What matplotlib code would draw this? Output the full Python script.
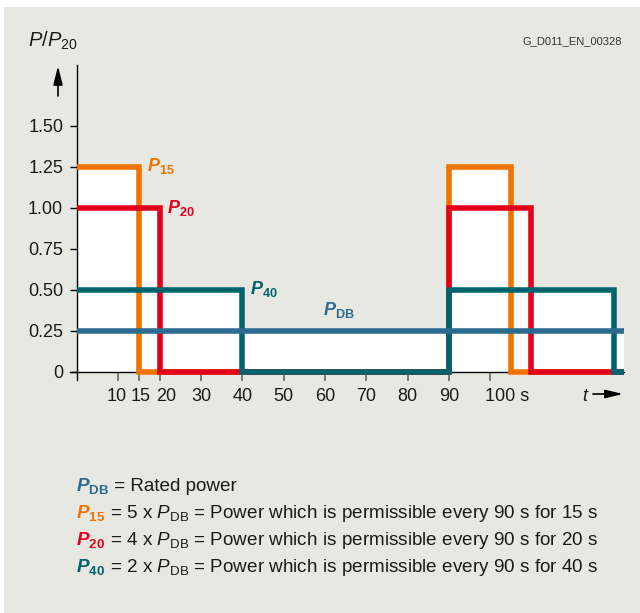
import numpy as np
import matplotlib
matplotlib.use('Agg')
import matplotlib.pyplot as plt
from matplotlib.patches import Rectangle
from matplotlib.transforms import ScaledTranslation

plt.rcParams['font.family'] = ['Liberation Sans', 'DejaVu Sans']
plt.rcParams['mathtext.fontset'] = 'custom'
plt.rcParams['mathtext.rm'] = 'Liberation Sans'
plt.rcParams['mathtext.it'] = 'Liberation Sans:italic'
plt.rcParams['mathtext.bf'] = 'Liberation Sans:bold'
plt.rcParams['mathtext.bfit'] = 'Liberation Sans:italic:bold'
plt.rcParams['mathtext.sf'] = 'Liberation Sans'

# ---------------- data ----------------
t = [0, 15, 20, 40, 90, 105, 110, 130, 132.4]
p15 = [1.25, 0, 0, 0, 1.25, 0, 0, 0, 0]
p20 = [1.00, 1.00, 0, 0, 1.00, 1.00, 0, 0, 0]
p40 = [0.50, 0.50, 0.50, 0, 0.50, 0.50, 0.50, 0, 0]
pdb = [0.25, 0.25, 0.25, 0.25, 0.25, 0.25, 0.25, 0.25, 0.25]

yticks = [0, 0.25, 0.50, 0.75, 1.00, 1.25, 1.50]
ytick_labels = ['0', '0.25', '0.50', '0.75', '1.00', '1.25', '1.50']
xticks = [10, 15, 20, 30, 40, 50, 60, 70, 80, 90, 100]
xtick_labels = ['10', '15', '20', '30', '40', '50', '60', '70', '80', '90', '100 s']

legend_subs = ['DB', '15', '20', '40']
legend_rest = [
    ' = Rated power',
    r' = 5 x $\mathit{P}_{\mathrm{DB}}$ = Power which is permissible every 90 s for 15 s',
    r' = 4 x $\mathit{P}_{\mathrm{DB}}$ = Power which is permissible every 90 s for 20 s',
    r' = 2 x $\mathit{P}_{\mathrm{DB}}$ = Power which is permissible every 90 s for 40 s',
]

# ---------------- style ----------------
BG = '#E8E8E3'
ORANGE = '#F07300'
RED = '#E2001A'
TEAL = '#00646E'
BLUE = '#2B6B8F'
TXT = '#1A1A1A'
legend_colors = [BLUE, ORANGE, RED, TEAL]

W, H = 640, 613
fig = plt.figure(figsize=(W / 100, H / 100), dpi=100)
fig.patch.set_facecolor('white')
fig.add_artist(Rectangle((4 / W, 0), 1 - 4 / W, 1 - 7 / H, transform=fig.transFigure,
                         facecolor=BG, edgecolor='none', zorder=-10))

def fx(px):
    return px / W

def fy(py):
    return 1 - py / H

ax = fig.add_axes([fx(70), fy(380), (624 - 70) / W, (380 - 65) / H])
ax.set_facecolor('none')
ax.set_xlim(-1.7, 132.4)
ax.set_ylim(-0.049, 1.872)

env = np.maximum.reduce([np.array(p15), np.array(p20), np.array(p40), np.array(pdb)])
ax.fill_between(t, 0, env, step='post', color='white', lw=0, zorder=1)

lkw = dict(drawstyle='steps-post', lw=4.0, solid_joinstyle='miter', solid_capstyle='butt')
ax.plot(t, p15, color=ORANGE, zorder=3, **lkw)
ax.plot(t, p20, color=RED, zorder=4, **lkw)
ax.plot(t, p40, color=TEAL, zorder=5, **lkw)
ax.plot(t, pdb, color=BLUE, zorder=6, **lkw)

for s in ['top', 'right']:
    ax.spines[s].set_visible(False)
ax.spines['left'].set_position(('data', 0))
ax.spines['bottom'].set_position(('data', 0))
for s in ['left', 'bottom']:
    ax.spines[s].set_linewidth(1.0)
    ax.spines[s].set_color('black')

ax.set_yticks(yticks)
ax.set_yticklabels(ytick_labels)
ax.set_xticks(xticks)
ax.set_xticklabels(xtick_labels)
ax.tick_params(axis='y', direction='out', length=5, width=1.0, color='black',
               pad=5, labelsize=13, labelcolor=TXT)
ax.tick_params(axis='x', direction='out', length=6.5, width=1.2, color='#666666',
               pad=5, labelsize=13, labelcolor=TXT)

# nudge crowded labels like the original
nudges = {'10': -2, '15': 2, '20': 7, '100 s': 17}
for lab in ax.get_xticklabels():
    d = nudges.get(lab.get_text())
    if d:
        lab.set_transform(lab.get_transform() + ScaledTranslation(d / 100, 0, fig.dpi_scale_trans))

# series labels
ax.text(17.0, 1.226, r'$\mathbfit{P}_{\mathbf{15}}$', color=ORANGE, fontsize=13, va='baseline', ha='left')
ax.text(21.8, 0.970, r'$\mathbfit{P}_{\mathbf{20}}$', color=RED, fontsize=13, va='baseline', ha='left')
ax.text(41.9, 0.476, r'$\mathbfit{P}_{\mathbf{40}}$', color=TEAL, fontsize=13, va='baseline', ha='left')
ax.text(59.6, 0.348, r'$\mathbfit{P}_{\mathbf{DB}}$', color=BLUE, fontsize=13, va='baseline', ha='left')

# axis labels / arrows
fig.text(fx(28), fy(47), r'$\mathit{P/P}_{\mathrm{20}}$', fontsize=14.5, va='baseline', ha='left', color=TXT)
ax.annotate('', xy=(fx(58), fy(66)), xytext=(fx(58), fy(96)), xycoords='figure fraction',
            textcoords='figure fraction',
            arrowprops=dict(arrowstyle='-|>,head_length=0.8,head_width=0.2', mutation_scale=14,
                            lw=1.2, color='black', shrinkA=0, shrinkB=0))
fig.text(fx(582), fy(401), 't', style='italic', fontsize=13, va='baseline', ha='left', color=TXT)
ax.annotate('', xy=(fx(623), fy(394)), xytext=(fx(593), fy(394)), xycoords='figure fraction',
            textcoords='figure fraction',
            arrowprops=dict(arrowstyle='-|>,head_length=0.75,head_width=0.18', mutation_scale=14,
                            lw=1.2, color='black', shrinkA=0, shrinkB=0))
fig.text(fx(622), fy(44), 'G_D011_EN_00328', fontsize=8, ha='right', va='baseline', color='#333333')

# legend block
baselines = [491, 518, 545, 572]
firsts = []
for sub, col, yb in zip(legend_subs, legend_colors, baselines):
    tx = fig.text(fx(76), fy(yb), r'$\mathbfit{P}_{\mathbf{' + sub + '}}$', color=col,
                  fontsize=13.6, va='baseline', ha='left')
    firsts.append(tx)

fig.canvas.draw()
renderer = fig.canvas.get_renderer()
for tx, rest, yb in zip(firsts, legend_rest, baselines):
    bb = tx.get_window_extent(renderer)
    fig.text(bb.x1 / W, fy(yb), rest, color=TXT, fontsize=13.6, va='baseline', ha='left')

fig.savefig('out.png', dpi=100)
